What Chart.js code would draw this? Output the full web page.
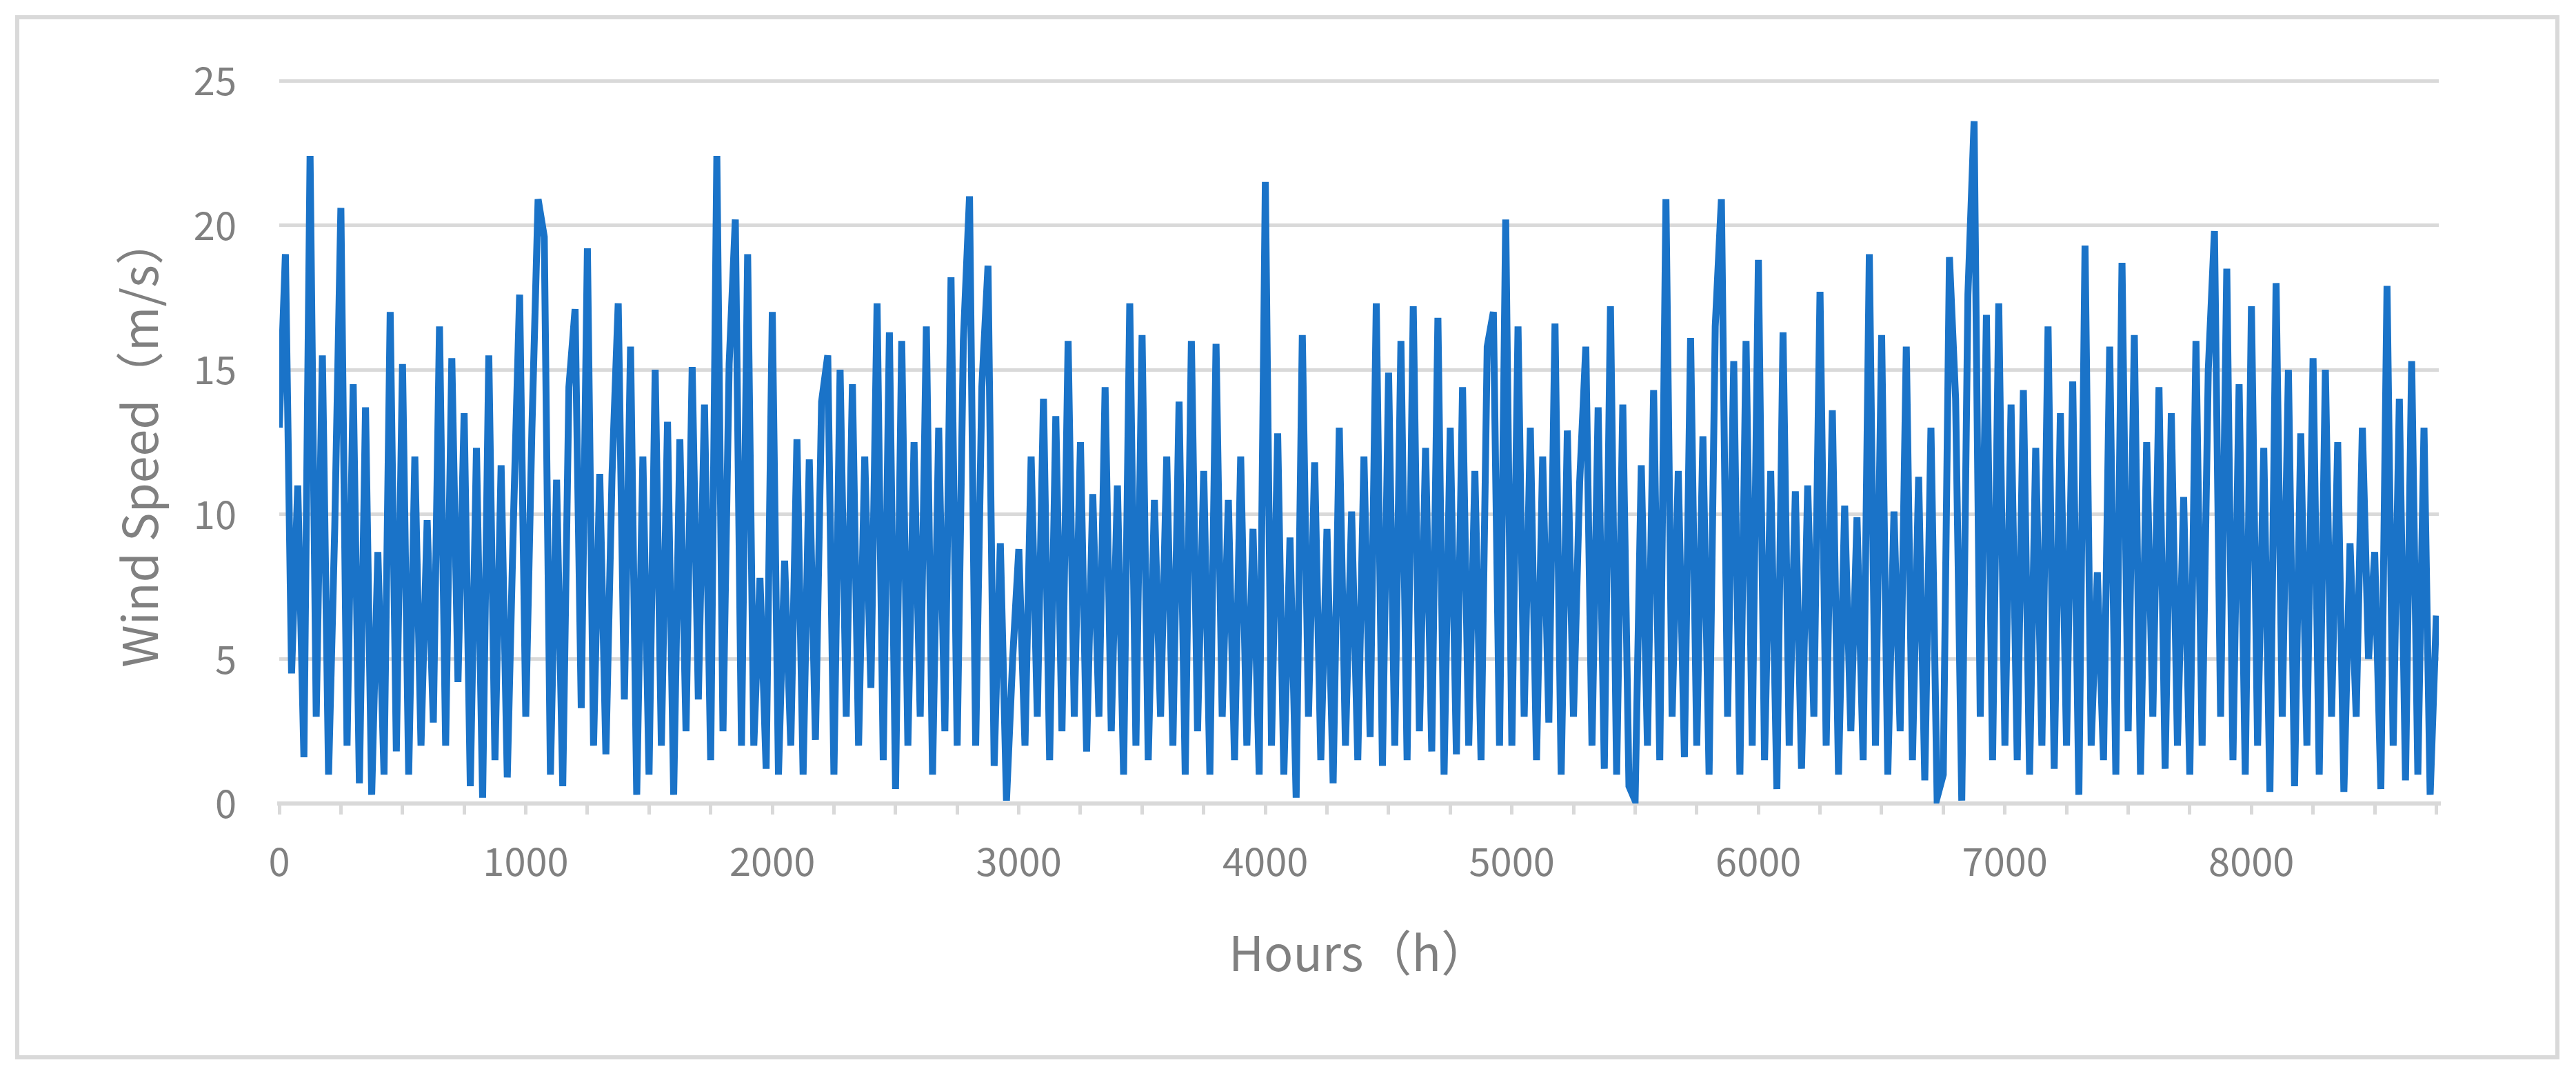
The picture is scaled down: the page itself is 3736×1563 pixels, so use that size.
<!DOCTYPE html>
<html><head><meta charset="utf-8">
<script src="https://cdn.jsdelivr.net/npm/chart.js@4"></script>
<style>html,body{margin:0;padding:0;background:#fff;}#wrap{width:3736px;height:1563px;}</style>
</head><body><div id="wrap"><canvas id="c" width="3736" height="1563"></canvas></div>
<script>
const stepHours = 25;
const windSpeed = [
13,19,4.5,11,1.6,22.4,3,15.5,1,9.5,
20.6,2,14.5,0.7,13.7,0.3,8.7,1,17,1.8,
15.2,1,12,2,9.8,2.8,16.5,2,15.4,4.2,
13.5,0.6,12.3,0.2,15.5,1.5,11.7,0.9,9.8,17.6,
3,13,20.9,19.6,1,11.2,0.6,14.4,17.1,3.3,
19.2,2,11.4,1.7,11.4,17.3,3.6,15.8,0.3,12,
1,15,2,13.2,0.3,12.6,2.5,15.1,3.6,13.8,
1.5,22.4,2.5,15.2,20.2,2,19,2,7.8,1.2,
17,1,8.4,2,12.6,1,11.9,2.2,13.9,15.5,
1,15,3,14.5,2,12,4,17.3,1.5,16.3,
0.5,16,2,12.5,3,16.5,1,13,2.5,18.2,
2,16,21,2,14.4,18.6,1.3,9,0.1,5,
8.8,2,12,3,14,1.5,13.4,2.5,16,3,
12.5,1.8,10.7,3,14.4,2.5,11,1,17.3,2,
16.2,1.5,10.5,3,12,2,13.9,1,16,2.5,
11.5,1,15.9,3,10.5,1.5,12,2,9.5,1,
21.5,2,12.8,1,9.2,0.2,16.2,3,11.8,1.5,
9.5,0.7,13,2,10.1,1.5,12,2.3,17.3,1.3,
14.9,2,16,1.5,17.2,2.5,12.3,1.8,16.8,1,
13,1.7,14.4,2,11.5,1.5,15.8,17,2,20.2,
2,16.5,3,13,1.5,12,2.8,16.6,1,12.9,
3,11.1,15.8,2,13.7,1.2,17.2,1,13.8,0.6,
0.1,11.7,2,14.3,1.5,20.9,3,11.5,1.6,16.1,
2,12.7,1,16.5,20.9,3,15.3,1,16,2,
18.8,1.5,11.5,0.5,16.3,2,10.8,1.2,11,3,
17.7,2,13.6,1,10.3,2.5,9.9,1.5,19,2,
16.2,1,10.1,2.5,15.8,1.5,11.3,0.8,13,0.2,
1,18.9,14,0.1,17.6,23.6,3,16.9,1.5,17.3,
2,13.8,1.5,14.3,1,12.3,2,16.5,1.2,13.5,
2,14.6,0.3,19.3,2,8,1.5,15.8,1,18.7,
2.5,16.2,1,12.5,3,14.4,1.2,13.5,2,10.6,
1,16,2,15,19.8,3,18.5,1.5,14.5,1,
17.2,2,12.3,0.4,18,3,15,0.6,12.8,2,
15.4,1,15,3,12.5,0.4,9,3,13,5,
8.7,0.5,17.9,2,14,0.8,15.3,1,13,0.3,6.5
];
const hours = windSpeed.map((v,i)=>i*stepHours);
const yTicks = [0,5,10,15,20,25];
const xTitle = 'Hours（h）';
const yTitle = 'Wind Speed（m/s）';
const points = hours.map((h,i)=>({x:h,y:windSpeed[i]}));

const frame = {id:'frame',beforeDraw(ch){const c=ch.ctx;c.save();c.fillStyle='#fff';c.fillRect(0,0,ch.width,ch.height);c.strokeStyle='#d9d9d9';c.lineWidth=6;c.strokeRect(25,25,3684,1508);c.restore();}};
const FONT = "'Noto Sans CJK SC','Noto Sans',sans-serif";
new Chart(document.getElementById('c'),{
  type:'line',
  data:{datasets:[{data:points,borderColor:'#1a73c8',borderWidth:10,pointRadius:0,tension:0,borderJoinStyle:'miter'}]},
  options:{
    responsive:false,animation:false,devicePixelRatio:1,
    layout:{padding:{left:160,right:199,top:117,bottom:140}},
    plugins:{legend:{display:false},tooltip:{enabled:false}},
    scales:{
      x:{type:'linear',min:0,max:8760,
        afterFit(s){s.height=258;},
        ticks:{stepSize:250,autoSkip:false,maxRotation:0,color:'#808080',font:{family:FONT,size:56},padding:34,
          callback:(v)=> v%1000===0 ? String(v) : ''},
        afterBuildTicks(s){s.ticks=[];for(let v=0;v<=8750;v+=250)s.ticks.push({value:v});},
        grid:{drawOnChartArea:false,color:'#d9d9d9',lineWidth:5,tickLength:16},
        border:{color:'#d9d9d9',width:6},
        title:{display:true,text:xTitle,color:'#808080',font:{family:FONT,size:70},padding:{top:0,bottom:0}}
      },
      y:{min:0,max:25,
        afterFit(s){s.width=245;},
        afterBuildTicks(s){s.ticks=yTicks.map(v=>({value:v}));},
        ticks:{color:'#808080',font:{family:FONT,size:56},padding:62},
        grid:{color:'#d9d9d9',lineWidth:5,drawTicks:false},
        border:{display:false},
        title:{display:true,text:yTitle,color:'#808080',font:{family:FONT,size:70},padding:0}
      }
    }
  },
  plugins:[frame]
});
</script></body></html>
